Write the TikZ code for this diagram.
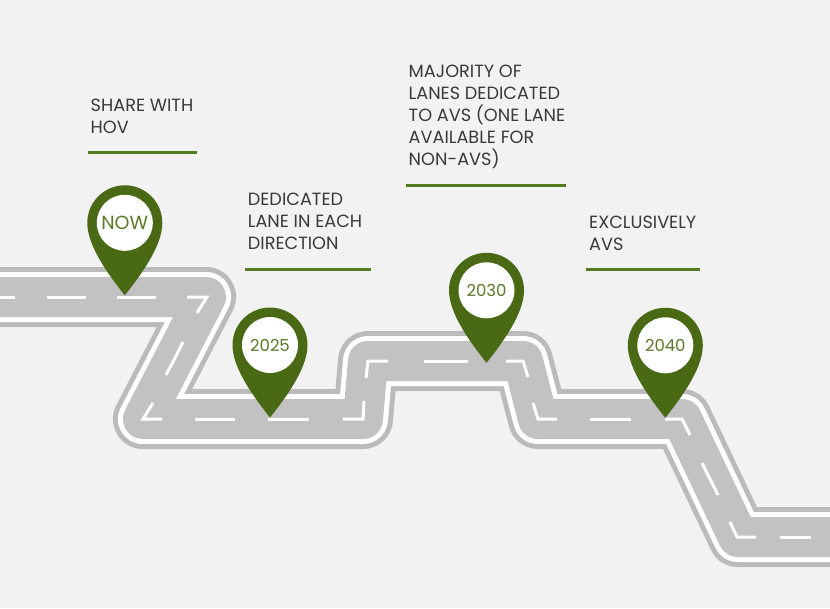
\documentclass[tikz,border=0pt]{standalone}
\usepackage{fontspec}
\setmainfont{Poppins}
\definecolor{pagebg}{HTML}{F2F2F2}
\definecolor{asphalt}{HTML}{C2C2C2}
\definecolor{kerb}{HTML}{BBBBBB}
\definecolor{pingreen}{HTML}{4A6914}
\definecolor{rulegreen}{HTML}{557A1F}
\definecolor{pintext}{HTML}{5A7A2A}
\definecolor{notetext}{HTML}{3A3A3A}

\begin{document}
\begin{tikzpicture}[x=1pt, y=-1pt]
\tikzset{roadbed/.style =
        {
            line join=round,
            kerb,
            line width=60pt
        }
}

\tikzset{roadedge/.style =
        {
            line join=round,
            white,
            line width=50pt
        }
}

\tikzset{roadtop/.style =
        {
            line join=round,
            asphalt,
            line width=40pt
        }
}

\tikzset{lanemark/.style =
        {
            white,
            line width=3pt,
            line join=miter
        }
}

\tikzset{pinhead/.style =
        {
            shape=circle,
            fill=white,
            text=pintext,
            minimum size=56pt,
            inner sep=0pt,
            font=\fontsize{16.5}{20}\selectfont
        }
}

\tikzset{note/.style =
        {
            anchor=north west,
            align=left,
            inner sep=0pt,
            text=notetext,
            font=\fontsize{17.7}{22}\selectfont
        }
}

\tikzset{noterule/.style =
        {
            rulegreen,
            line width=3pt
        }
}
		\useasboundingbox (0,0) rectangle (830,608);
		\fill[pagebg] (0,0) rectangle (830,608);

		\foreach \layer in {roadbed, roadedge, roadtop}
		\draw[\layer] (-40,297) -- (206,297) -- (143,419) -- (363,419) -- (368,361)
			-- (523,361) -- (538,419) -- (682,419) -- (738,537) -- (870,537);

		\foreach \xa / \ya / \xb / \yb / \xc / \yc in
			{-5/297/5/297/15/297,
				47/297/66/297/86/297,
				117/297/136/297/156/297,
				187/297/207/297/197/313,
				183/342/175/358/166/375,
				153/403/143/419/162/419,
				195/419/215/419/235/419,
				268/419/288/419/309/419,
				343/419/363/419/364/401,
				366/378/368/361/388/361,
				424/361/446/361/468/361,
				506/361/523/361/528/377,
				533/403/538/419/557/419,
				590/419/610/419/631/419,
				665/419/682/419/690/435,
				702/463/710/479/718/495,
				730/522/737/537/756/537,
				780/537/795/537/811/537}
		{
			\draw[lanemark] (\xa,\ya) -- (\xb,\yb) -- (\xc,\yc);
		}

		\foreach \name / \x / \y / \year in
			{now/124.8/222.8/{\fontsize{19}{20}\selectfont NOW},
				y2025/270/345/2025,
				y2030/486.5/290.3/2030,
				y2040/665.3/345.3/2040}
		{
			\begin{scope}[shift={(\x,\y)}]
				\fill[pingreen] (-37.5,0) arc (180:360:37.5)
					.. controls (37.5,20) and (22,45) .. (0,72.5)
					.. controls (-22,45) and (-37.5,20) .. (-37.5,0) -- cycle;
				\node[pinhead] (pin-\name) at (0,0) {\year};
			\end{scope}
		}

		\foreach \name / \x / \y / \words / \rx / \ry / \rend in
			{hov/90.5/98.5/{SHARE WITH\\HOV}/88/152/197,
				lane/247.7/192.7/{DEDICATED\\LANE IN EACH\\DIRECTION}/245/269.3/371,
				most/408.5/64.4/{MAJORITY OF\\LANES DEDICATED\\TO AVS (ONE LANE\\AVAILABLE FOR\\NON-AVS)}/406/185.7/566,
				only/589/215.4/{EXCLUSIVELY\\AVS}/586/269/700}
		{
			\node[note] (note-\name) at (\x,\y) {\words};
			\draw[noterule] (\rx,\ry) -- (\rend,\ry);
		}
\end{tikzpicture}
\end{document}
